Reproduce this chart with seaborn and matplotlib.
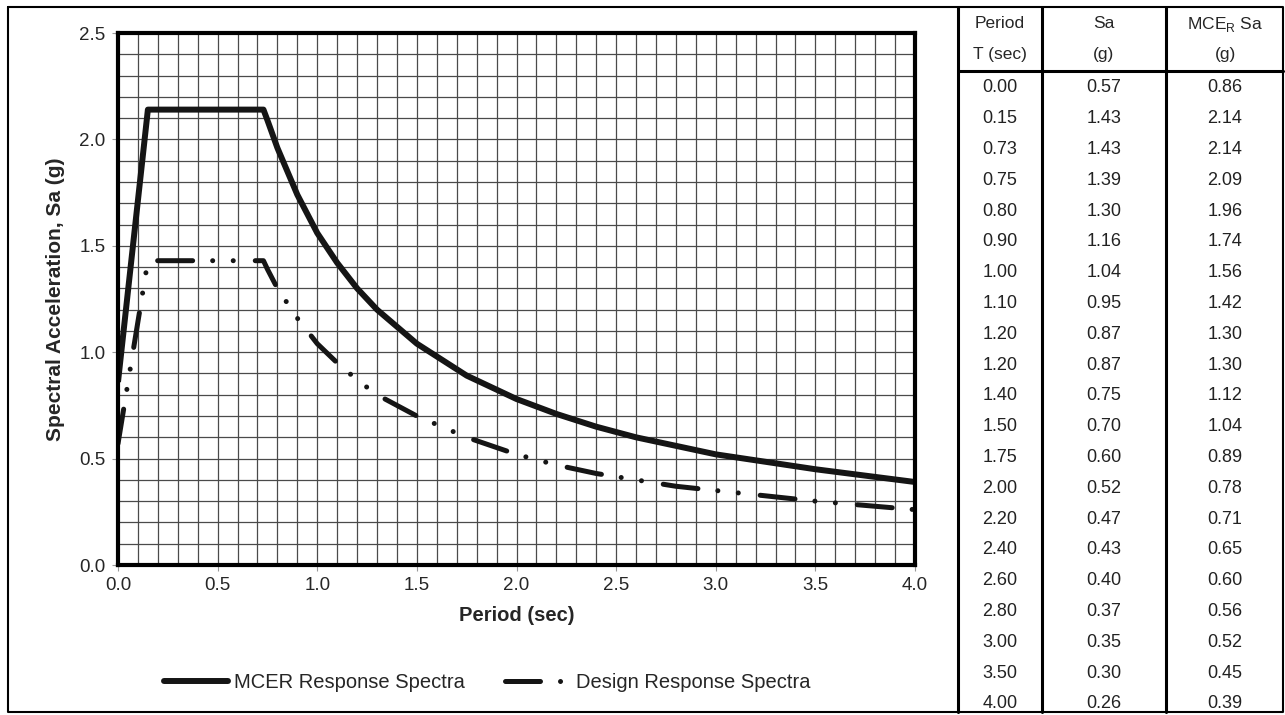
import numpy as np
import pandas as pd
import seaborn as sns
import matplotlib.pyplot as plt
from matplotlib.lines import Line2D

# table values as printed
period_tbl = ['0.00', '0.15', '0.73', '0.75', '0.80', '0.90', '1.00', '1.10', '1.20', '1.20',
              '1.40', '1.50', '1.75', '2.00', '2.20', '2.40', '2.60', '2.80', '3.00', '3.50', '4.00']
sa_tbl = ['0.57', '1.43', '1.43', '1.39', '1.30', '1.16', '1.04', '0.95', '0.87', '0.87',
          '0.75', '0.70', '0.60', '0.52', '0.47', '0.43', '0.40', '0.37', '0.35', '0.30', '0.26']
mce_tbl = ['0.86', '2.14', '2.14', '2.09', '1.96', '1.74', '1.56', '1.42', '1.30', '1.30',
           '1.12', '1.04', '0.89', '0.78', '0.71', '0.65', '0.60', '0.56', '0.52', '0.45', '0.39']

# curve values
period = [0.00, 0.15, 0.73, 0.75, 0.80, 0.90, 1.00, 1.10, 1.20, 1.30,
          1.40, 1.50, 1.75, 2.00, 2.20, 2.40, 2.60, 2.80, 3.00, 3.50, 4.00]
sa_design = [0.57, 1.43, 1.43, 1.39, 1.30, 1.16, 1.04, 0.95, 0.87, 0.80,
             0.75, 0.70, 0.60, 0.52, 0.47, 0.43, 0.40, 0.37, 0.35, 0.30, 0.26]
sa_mcer = [0.86, 2.14, 2.14, 2.09, 1.96, 1.74, 1.56, 1.42, 1.30, 1.20,
           1.12, 1.04, 0.89, 0.78, 0.71, 0.65, 0.60, 0.56, 0.52, 0.45, 0.39]

df = pd.DataFrame({'T': period, 'design': sa_design, 'mcer': sa_mcer})

sns.set_style('white')
plt.rcParams['font.family'] = ['Liberation Sans', 'DejaVu Sans']
plt.rcParams['mathtext.fontset'] = 'custom'
plt.rcParams['mathtext.rm'] = 'Liberation Sans'
plt.rcParams['mathtext.sf'] = 'Liberation Sans'

W, H = 1285, 715
fig = plt.figure(figsize=(W / 100, H / 100), dpi=100)
ax = fig.add_axes([118 / W, 1 - 565 / H, (915 - 118) / W, (565 - 33) / H])

sns.lineplot(data=df, x='T', y='mcer', ax=ax, color='#151515', linewidth=4.3,
             solid_capstyle='butt', zorder=4)
sns.lineplot(data=df, x='T', y='design', ax=ax, color='#151515', linewidth=3.6, zorder=4)
dash = (0, (7.0, 4.0, 0.01, 4.1, 0.01, 4.4))
ax.lines[1].set_linestyle(dash)
ax.lines[1].set_dash_capstyle('round')

ax.set_xlim(0, 4)
ax.set_ylim(0, 2.5)
ax.set_xticks(np.arange(0, 4.01, 0.5))
ax.set_yticks(np.arange(0, 2.51, 0.5))
ax.set_xticks(np.arange(0, 4.01, 0.1), minor=True)
ax.set_yticks(np.arange(0, 2.51, 0.1), minor=True)
ax.grid(True, which='both', color='#4a4a4a', linewidth=0.9)
ax.tick_params(which='major', direction='out', length=4, width=0.8, color='#999999',
               labelsize=13.5, pad=5, bottom=True, left=True)
ax.tick_params(which='minor', length=0)
ax.xaxis.set_major_formatter(plt.FormatStrFormatter('%.1f'))
ax.yaxis.set_major_formatter(plt.FormatStrFormatter('%.1f'))
for s in ax.spines.values():
    s.set_visible(True)
    s.set_color('black')
    s.set_linewidth(3)
    s.set_zorder(5)

ax.set_xlabel('Period (sec)', fontsize=14.5, fontweight='bold', labelpad=8)
ax.set_ylabel('Spectral Acceleration, Sa (g)', fontsize=15, fontweight='bold', labelpad=10)

handles = [Line2D([], [], color='#151515', linewidth=4.3),
           Line2D([], [], color='#151515', linewidth=3.6, linestyle=dash, dash_capstyle='round')]
ax.legend(handles, ['MCER Response Spectra', 'Design Response Spectra'], ncol=2,
          loc='center', bbox_to_anchor=(487 / W, 1 - 683 / H), bbox_transform=fig.transFigure,
          frameon=False, fontsize=14.5, handlelength=3.2, columnspacing=2.0, handletextpad=0.3)

# overlay for border and table, in pixel coordinates
ov = fig.add_axes([0, 0, 1, 1], zorder=10)
ov.set_xlim(0, W)
ov.set_ylim(H, 0)
ov.axis('off')
ov.patch.set_alpha(0)

ov.plot([8, 1283, 1283, 8, 8], [7, 7, 712, 712, 7], color='black', linewidth=1.5)
for xv in [958, 1042, 1166]:
    ov.plot([xv, xv], [7, 712], color='black', linewidth=2.2)
ov.plot([958, 1283], [71, 71], color='black', linewidth=2.2)

fs = 12.5
cx = [1000, 1104, 1225]
ov.text(cx[0], 24, 'Period', ha='center', va='center', fontsize=fs)
ov.text(cx[0], 55, 'T (sec)', ha='center', va='center', fontsize=fs)
ov.text(cx[1], 24, 'Sa', ha='center', va='center', fontsize=fs)
ov.text(cx[1], 55, '(g)', ha='center', va='center', fontsize=fs)
ov.text(cx[2], 24, r'MCE$_{\mathsf{R}}$ Sa', ha='center', va='center', fontsize=fs)
ov.text(cx[2], 55, '(g)', ha='center', va='center', fontsize=fs)

for i, (p, s, m) in enumerate(zip(period_tbl, sa_tbl, mce_tbl)):
    y = 88 + i * 30.8
    for c, t in zip(cx, (p, s, m)):
        ov.text(c, y, t, ha='center', va='center', fontsize=13, color='#222222')

plt.savefig('out.png', dpi=100)
plt.close()
